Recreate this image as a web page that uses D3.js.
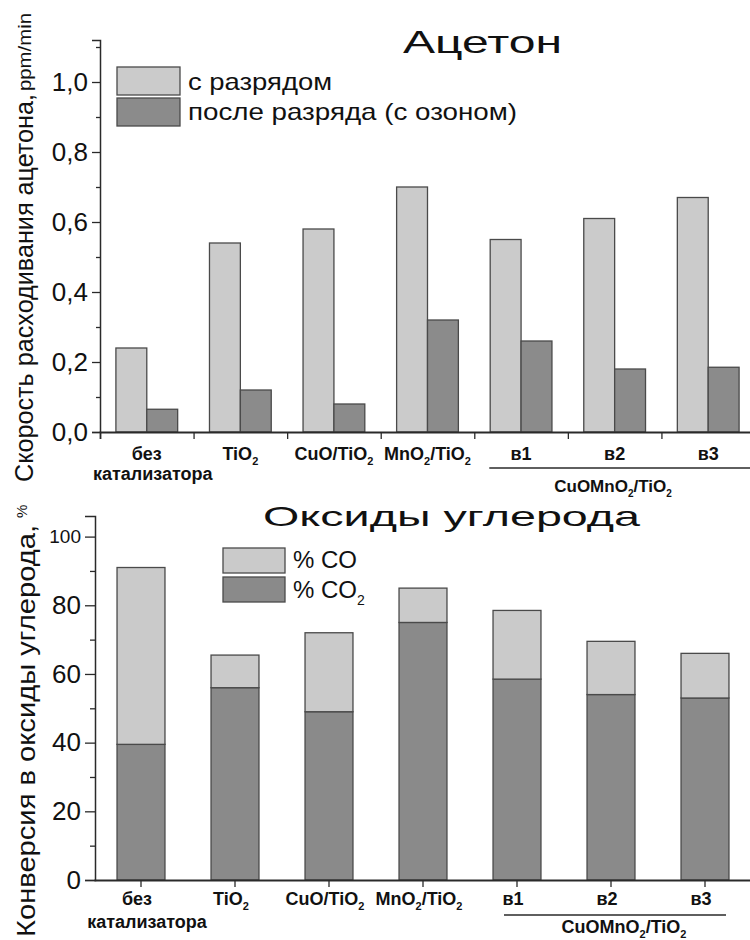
<!DOCTYPE html>
<html>
<head>
<meta charset="utf-8">
<script src="https://cdn.jsdelivr.net/npm/d3@7"></script>
<style>
  body { margin: 0; background: #fff; }
  svg { display: block; font-family: "Liberation Sans", Arial, sans-serif; }
</style>
</head>
<body>
<div id="chart"></div>
<script>
// ---------------------------------------------------------------
// Données

// catégories (le "_2" marque un indice)
const categories = ["без\nкатализатора", "TiO_2", "CuO/TiO_2", "MnO_2/TiO_2", "в1", "в2", "в3"];
const groupLabel = "CuOMnO_2/TiO_2";

// Ацетон : скорость расходования, ppm/min
const rateDischarge = [0.24, 0.54, 0.58, 0.70, 0.55, 0.61, 0.67];
const rateAfter = [0.065, 0.12, 0.08, 0.32, 0.26, 0.18, 0.185];

// Оксиды углерода : конверсия, %
const convCO2 = [39.5, 56, 49, 75, 58.5, 54, 53];
const convCO = [51.5, 9.5, 23, 10, 20, 15.5, 13];

// graduations
const topTicks = [0, 0.2, 0.4, 0.6, 0.8, 1.0];
const topMinor = [0.1, 0.3, 0.5, 0.7, 0.9, 1.1];
const botTicks = [0, 20, 40, 60, 80, 100];
const botMinor = [10, 30, 50, 70, 90];

// ---------------------------------------------------------------

const W = 750, H = 940;
const cLight = "#cbcbcb", cDark = "#8b8b8b", cStroke = "#4a4a4a", cAxis = "#2a2a2a";

const svg = d3.select("#chart").append("svg")
    .attr("width", W).attr("height", H);

// écrit un libellé avec indices
function richText(sel, str, size, subSize) {
    const parts = str.split(/(_\d)/).filter(p => p.length);
    let sub = false;
    parts.forEach(p => {
        if (p[0] === "_") {
            sel.append("tspan").attr("font-size", subSize).attr("dy", size * 0.3).text(p.slice(1));
            sub = true;
        } else {
            sel.append("tspan").attr("dy", sub ? -size * 0.3 : 0).text(p);
            sub = false;
        }
    });
}

const fmtComma = d => d3.format(".1f")(d).replace(".", ",");

// ---------------------------------------------------------------
// Graphique 1 : Ацетон

const x1 = d3.scaleBand().domain(d3.range(categories.length)).range([100, 755]);
const sub1 = d3.scaleBand().domain(["with", "after"]).range([x1.bandwidth() * 0.17, x1.bandwidth() * 0.83]);
const y1 = d3.scaleLinear().domain([0, 1.12]).range([432, 40]);

const g1 = svg.append("g");

const series1 = [
    { key: "with", values: rateDischarge, col: cLight },
    { key: "after", values: rateAfter, col: cDark }
];

series1.forEach(s => {
    g1.append("g").selectAll("rect")
        .data(s.values)
        .join("rect")
        .attr("x", (d, i) => x1(i) + sub1(s.key))
        .attr("y", d => y1(d))
        .attr("width", sub1.bandwidth())
        .attr("height", d => y1(0) - y1(d))
        .attr("fill", s.col)
        .attr("stroke", cStroke)
        .attr("stroke-width", 1.3);
});

// axe Y
g1.append("g")
    .attr("transform", `translate(${100},0)`)
    .call(d3.axisLeft(y1).tickValues(topTicks).tickSize(8).tickPadding(4).tickFormat(fmtComma))
    .call(g => g.select(".domain").attr("stroke", cAxis).attr("stroke-width", 1.5))
    .call(g => g.selectAll(".tick line").attr("stroke", cAxis).attr("stroke-width", 1.3))
    .call(g => g.selectAll("text").attr("font-size", 26).attr("fill", "#111")
        .attr("font-family", "Liberation Sans, Arial, sans-serif"));

g1.append("g")
    .attr("transform", `translate(${100},0)`)
    .call(d3.axisLeft(y1).tickValues(topMinor).tickSize(4).tickFormat(""))
    .call(g => g.select(".domain").remove())
    .call(g => g.selectAll(".tick line").attr("stroke", cAxis).attr("stroke-width", 1.3));

// axe X (graduations aux limites des catégories)
const xb1 = d3.scaleLinear().domain([0, categories.length]).range(x1.range());
g1.append("g")
    .attr("transform", `translate(0,${y1(0)})`)
    .call(d3.axisBottom(xb1).tickValues(d3.range(1, categories.length)).tickSize(7).tickFormat(""))
    .call(g => g.select(".domain").attr("stroke", cAxis).attr("stroke-width", 1.8))
    .call(g => g.selectAll(".tick line").attr("stroke", cAxis).attr("stroke-width", 1.3));

// libellés des catégories
categories.forEach((c, i) => {
    c.split("\n").forEach((line, k) => {
        const t = g1.append("text")
            .attr("x", x1(i) + x1.bandwidth() / 2 + (k ? 6 : 0))
            .attr("y", 460 + k * 20)
            .attr("text-anchor", "middle")
            .attr("font-size", 18).attr("font-weight", "bold").attr("fill", "#111");
        richText(t, line, 18, 11);
    });
});

g1.append("line")
    .attr("x1", x1(4) + 15).attr("x2", x1(6) + x1.bandwidth())
    .attr("y1", 468).attr("y2", 468)
    .attr("stroke", cAxis).attr("stroke-width", 1.5);

const gl1 = g1.append("text")
    .attr("x", 613).attr("y", 492)
    .attr("text-anchor", "middle")
    .attr("font-size", 17).attr("font-weight", "bold").attr("fill", "#111");
richText(gl1, groupLabel, 17, 10);

// titre
g1.append("text")
    .attr("x", 403).attr("y", 53)
    .attr("font-size", 32).attr("fill", "#111")
    .attr("textLength", 159).attr("lengthAdjust", "spacingAndGlyphs")
    .text("Ацетон");

// légende
const legend1 = [
    { label: "с разрядом", col: cLight, len: 144 },
    { label: "после разряда (с озоном)", col: cDark, len: 329 }
];
legend1.forEach((d, i) => {
    g1.append("rect")
        .attr("x", 117).attr("y", 67 + i * 31)
        .attr("width", 63).attr("height", 28)
        .attr("fill", d.col).attr("stroke", cStroke).attr("stroke-width", 1.3);
    g1.append("text")
        .attr("x", 188).attr("y", 90 + i * 30)
        .attr("font-size", 24).attr("fill", "#111")
        .attr("textLength", d.len).attr("lengthAdjust", "spacingAndGlyphs")
        .text(d.label);
});

// titre de l'axe Y
g1.append("text")
    .attr("transform", "translate(33,482) rotate(-90)")
    .attr("font-size", 26).attr("fill", "#111")
    .attr("textLength", 388).attr("lengthAdjust", "spacingAndGlyphs")
    .text("Скорость расходивания ацетона,");
g1.append("text")
    .attr("transform", "translate(31,91) rotate(-90)")
    .attr("font-size", 19).attr("fill", "#111")
    .attr("textLength", 78).attr("lengthAdjust", "spacingAndGlyphs")
    .text("ppm/min");

// ---------------------------------------------------------------
// Graphique 2 : Оксиды углерода

const x2 = d3.scaleBand().domain(d3.range(categories.length)).range([94, 752]);
const barW = x2.bandwidth() * 0.51;
const y2 = d3.scaleLinear().domain([0, 106]).range([880, 516]);

const g2 = svg.append("g");

const stackData = categories.map((c, i) => ({ co2: convCO2[i], co: convCO[i] }));
const stacked = d3.stack().keys(["co2", "co"])(stackData);
const col2 = { co2: "#8a8a8a", co: "#cacaca" };

g2.selectAll("g.layer")
    .data(stacked)
    .join("g")
    .attr("class", "layer")
    .attr("fill", d => col2[d.key])
    .selectAll("rect")
    .data(d => d)
    .join("rect")
    .attr("x", (d, i) => x2(i) + (x2.bandwidth() - barW) / 2)
    .attr("y", d => y2(d[1]))
    .attr("width", barW)
    .attr("height", d => y2(d[0]) - y2(d[1]))
    .attr("stroke", cStroke)
    .attr("stroke-width", 1.3);

// axe Y
g2.append("g")
    .attr("transform", `translate(${95},0)`)
    .call(d3.axisLeft(y2).tickValues(botTicks).tickSize(10).tickPadding(4).tickFormat(d3.format("d")))
    .call(g => g.select(".domain").attr("stroke", cAxis).attr("stroke-width", 1.5))
    .call(g => g.selectAll(".tick line").attr("stroke", cAxis).attr("stroke-width", 1.3))
    .call(g => g.selectAll("text").attr("font-size", d => d === 100 ? 19 : 26).attr("fill", "#111")
        .attr("font-family", "Liberation Sans, Arial, sans-serif"));

g2.append("g")
    .attr("transform", `translate(${95},0)`)
    .call(d3.axisLeft(y2).tickValues(botMinor).tickSize(5).tickFormat(""))
    .call(g => g.select(".domain").remove())
    .call(g => g.selectAll(".tick line").attr("stroke", cAxis).attr("stroke-width", 1.3));

// axe X (graduations au centre)
g2.append("g")
    .attr("transform", `translate(0,${y2(0)})`)
    .call(d3.axisBottom(x2).tickSize(7).tickSizeOuter(0).tickFormat(""))
    .call(g => g.select(".domain").attr("stroke", cAxis).attr("stroke-width", 1.8))
    .call(g => g.selectAll(".tick line").attr("stroke", cAxis).attr("stroke-width", 1.3));

categories.forEach((c, i) => {
    c.split("\n").forEach((line, k) => {
        const t = g2.append("text")
            .attr("x", x2(i) + x2.bandwidth() / 2 + (k ? 6 : -4))
            .attr("y", 905 + k * 23)
            .attr("text-anchor", "middle")
            .attr("font-size", 18).attr("font-weight", "bold").attr("fill", "#111");
        richText(t, line, 18, 11);
    });
});

g2.append("line")
    .attr("x1", x2(4) + x2.bandwidth() / 2 - 13).attr("x2", x2(6) + x2.bandwidth() / 2 + 21)
    .attr("y1", 915).attr("y2", 915)
    .attr("stroke", cAxis).attr("stroke-width", 1.5);

const gl2 = g2.append("text")
    .attr("x", 624).attr("y", 933)
    .attr("text-anchor", "middle")
    .attr("font-size", 18).attr("font-weight", "bold").attr("fill", "#111");
richText(gl2, groupLabel, 18, 11);

// titre
g2.append("text")
    .attr("x", 263).attr("y", 526)
    .attr("font-size", 28).attr("fill", "#111")
    .attr("textLength", 377).attr("lengthAdjust", "spacingAndGlyphs")
    .text("Оксиды углерода");

// légende
const legend2 = [
    { label: "% CO", col: col2.co },
    { label: "% CO_2", col: col2.co2 }
];
legend2.forEach((d, i) => {
    g2.append("rect")
        .attr("x", 223).attr("y", 548 + i * 29)
        .attr("width", 62).attr("height", 25)
        .attr("fill", d.col).attr("stroke", cStroke).attr("stroke-width", 1.3);
    const t = g2.append("text")
        .attr("x", 293).attr("y", 568 + i * 30)
        .attr("font-size", 24).attr("fill", "#111");
    richText(t, d.label, 24, 14);
});

// titre de l'axe Y
g2.append("text")
    .attr("transform", "translate(35,937) rotate(-90)")
    .attr("font-size", 26).attr("fill", "#111")
    .attr("textLength", 412).attr("lengthAdjust", "spacingAndGlyphs")
    .text("Конверсия в оксиды углерода,");
g2.append("text")
    .attr("transform", "translate(27,518) rotate(-90)")
    .attr("font-size", 15).attr("fill", "#111")
    .text("%");
</script>
</body>
</html>
